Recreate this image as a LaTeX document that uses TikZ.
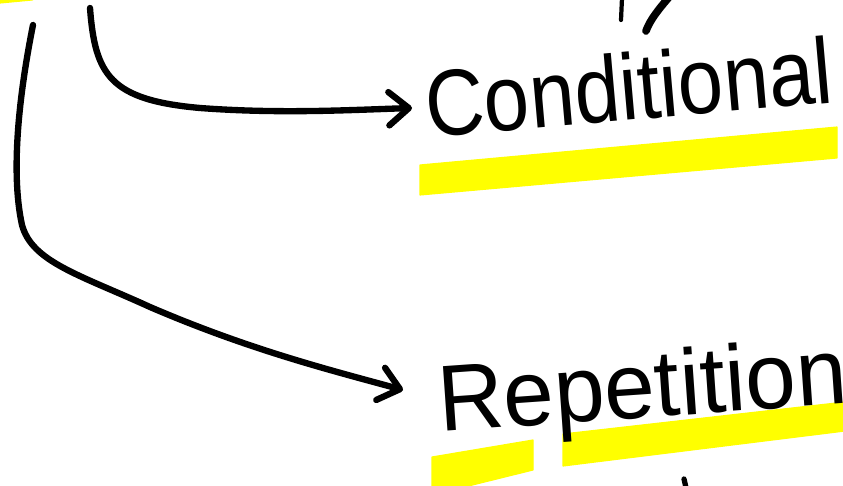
\documentclass[tikz,border=0pt]{standalone}
\usepackage{fontspec}
\setmainfont{Liberation Sans}
\usetikzlibrary{arrows.meta}
\definecolor{hilite}{RGB}{255,255,0}

\begin{document}
\begin{tikzpicture}[x=0.03cm,y=-0.03cm,
  word/.style={inner sep=0pt,anchor=base west,transform shape,
              font=\fontsize{80}{80}\selectfont},
  marker/.style={fill=hilite,draw=hilite,line width=1pt,line join=round},
  ink/.style={line width=3.6pt,line cap=round},
  flow/.style={-{Straight Barb[length=6mm,width=10mm,round]},line width=5.4pt,
              line cap=round,line join=round}
]
\useasboundingbox (0,0) rectangle (843,486);
\clip (0,0) rectangle (843,486);

\fill[marker] (0,-2) -- (36,-2) -- (32,0) -- (0,3) -- cycle;
\fill[marker] (420,165) -- (837,127) -- (837,158) -- (420,195) -- cycle;
\fill[marker] (432,457) -- (533,440) -- (533,470) -- (432,495) -- cycle;
\fill[marker] (563,434) -- (845,402) -- (845,431) -- (563,466) -- cycle;

\node[word,rotate=5,xscale=0.87] (cond) at (428,138) {Conditional};
\node[word,rotate=4,xscale=0.97] (rep) at (440,432) {Repetition};

\coordinate (topA) at (90,8);
\coordinate (topB) at (33,25);
\draw[flow] (topA) .. controls (95,75) and (110,100) .. (200,108)
  .. controls (280,114) and (350,110) .. ([shift={(-16,-30)}]cond.base west);
\draw[flow] (topB) .. controls (20,90) and (10,170) .. (22,225)
  .. controls (32,262) and (80,275) .. (150,307)
  .. controls (250,350) and (330,370) .. ([shift={(-37,-42)}]rep.base west);

\draw[ink] (622,-2) -- (621,20);
\draw[ink,line width=6.5pt] (670,-4) .. controls (658,10) and (650,20) .. (646,31);
\draw[ink,line width=4.5pt] (684,479) -- (687,492);
\end{tikzpicture}
\end{document}
